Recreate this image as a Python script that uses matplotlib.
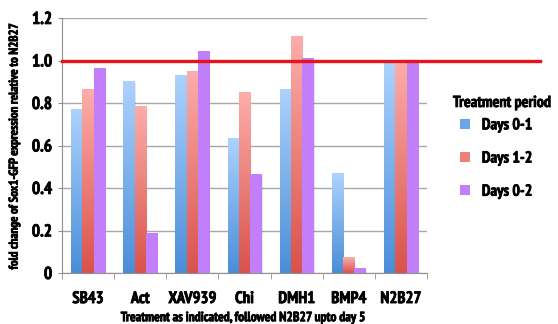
import numpy as np
import matplotlib
matplotlib.use("Agg")
import matplotlib.pyplot as plt
import matplotlib.patheffects as pe
from matplotlib.colors import LinearSegmentedColormap
from matplotlib.patches import Patch

plt.rcParams['font.family'] = ['PT Sans Narrow', 'Roboto Condensed', 'Asap Condensed', 'DejaVu Sans']
plt.rcParams['font.weight'] = 'bold'

treatments = ['SB43', 'Act', 'XAV939', 'Chi', 'DMH1', 'BMP4', 'N2B27']
periods = ['Days 0-1', 'Days 1-2', 'Days 0-2']
days_0_1 = [0.772, 0.903, 0.932, 0.634, 0.866, 0.469, 1.0]
days_1_2 = [0.866, 0.786, 0.951, 0.850, 1.115, 0.075, 1.0]
days_0_2 = [0.963, 0.187, 1.045, 0.464, 1.010, 0.024, 1.0]

# (top colour, bottom colour) for each series
shades = [('#aed2fd', '#4a8ed8'), ('#fdaeab', '#d9524a'), ('#c27ffb', '#c27ffb')]
legend_colors = ['#6aa6e6', '#ee7f7a', '#c27ffb']

# thicken the narrow bold face a little
heavy = [pe.withStroke(linewidth=0.5, foreground='black')]

fig = plt.figure(figsize=(5.58, 3.24), dpi=100)
ax = fig.add_axes([62 / 558, 1 - 273 / 324, 365 / 558, 255 / 324])

x = np.arange(len(treatments))
width = 0.217
grad = np.linspace(1, 0, 256).reshape(-1, 1)

for i, vals in enumerate([days_0_1, days_1_2, days_0_2]):
    cmap = LinearSegmentedColormap.from_list(f's{i}', [shades[i][1], shades[i][0]])
    bars = ax.bar(x + (i - 1) * width, vals, width, color='none', zorder=3)
    for b in bars:
        x0, w, h = b.get_x(), b.get_width(), b.get_height()
        # soft drop shadow behind each bar
        ax.add_patch(plt.Rectangle((x0 + 0.02, 0), w, h - 0.008, color='#000000',
                                   alpha=0.10, lw=0, zorder=2))
        im = ax.imshow(grad, extent=(x0, x0 + w, 0, h), aspect='auto', cmap=cmap,
                       vmin=0, vmax=1, zorder=3)
        im.set_clip_path(b)

ax.set_xlim(-0.5, len(treatments) - 0.5)
ax.set_ylim(0, 1.2)
ax.set_yticks([0, 0.2, 0.4, 0.6, 0.8, 1.0, 1.2])
ax.set_yticklabels(['0', '0.2', '0.4', '0.6', '0.8', '1.0', '1.2'], fontsize=12.5, fontweight='bold')
ax.set_xticks(x)
ax.set_xticklabels(treatments, fontsize=12, fontweight='bold')
ax.set_xticks(np.arange(-0.5, len(treatments)), minor=True)
ax.tick_params(axis='x', which='major', length=0, pad=13)
ax.tick_params(axis='x', which='minor', length=4, color='#909090', direction='out')
ax.tick_params(axis='y', length=3, color='#909090', pad=4)
for t in ax.get_xticklabels() + ax.get_yticklabels():
    t.set_path_effects(heavy)

ax.grid(axis='y', color='#a8a8a8', lw=1.0, zorder=0)
ax.set_axisbelow(True)
for s in ['top', 'right']:
    ax.spines[s].set_visible(False)
for s in ['left', 'bottom']:
    ax.spines[s].set_color('#909090')

# reference level at N2B27
ax.axhline(1.0, xmin=0, xmax=(540 - 62) / 365, color='#e8141c', lw=2.4,
           clip_on=False, zorder=4)

ax.set_ylabel('fold change of Sox1-GFP expression relative to N2B27',
              fontsize=9.2, fontweight='bold', labelpad=8, path_effects=heavy)
ax.set_xlabel('Treatment as indicated, followed N2B27 upto day 5',
              fontsize=9.7, fontweight='bold', labelpad=3, path_effects=heavy)

fig.text(453 / 558, 1 - 103 / 324, 'Treatment period', fontsize=11.5, fontweight='bold',
         va='center', ha='left', path_effects=heavy)
handles = [Patch(facecolor=c, edgecolor='none') for c in legend_colors]
leg = fig.legend(handles, periods, loc='upper left', bbox_to_anchor=(446 / 558, 1 - 104 / 324),
                 frameon=False, handlelength=0.6, handleheight=0.6,
                 labelspacing=1.2, handletextpad=0.75,
                 prop={'size': 11.5, 'weight': 'bold'})
for t in leg.get_texts():
    t.set_path_effects(heavy)

fig.savefig('out.png', dpi=100)
